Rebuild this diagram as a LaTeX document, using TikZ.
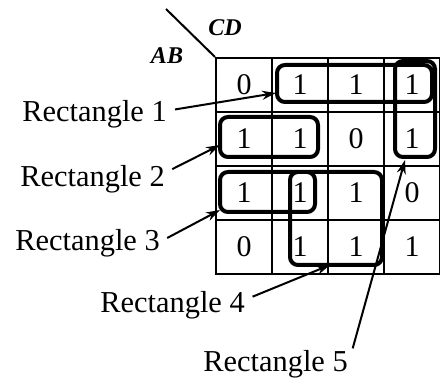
\documentclass[tikz,border=0pt]{standalone}
\usepackage{fontspec}
\setmainfont{Liberation Serif}
\usetikzlibrary{arrows.meta}

\tikzset{
  cell/.style={draw, line width=1pt, minimum width=28pt, minimum height=27pt,
    inner sep=0pt, font=\fontsize{15}{18}\selectfont},
  grp/.style={line width=2pt, rounded corners=4pt},
  lbl/.style={inner sep=0pt, anchor=base west, font=\fontsize{15.2}{18}\selectfont},
  var/.style={font=\fontsize{12}{14}\selectfont\bfseries\itshape},
  ptr/.style={line width=1pt, -{Stealth[length=7pt,width=4.5pt]}, shorten <=4pt},
}

\begin{document}
\begin{tikzpicture}[x=0.5pt,y=-0.5pt]
\useasboundingbox (0,0) rectangle (440,379);

% the map
\foreach \row/\vals in {1/{0,1,1,1}, 2/{1,1,0,1}, 3/{1,1,1,0}, 4/{0,1,1,1}} {
  \foreach \v [count=\col] in \vals {
    \node[cell] (c\row\col) at ({216+56*\col-28}, {58+54*\row-27}) {\v};
  }
}

% corner
\coordinate (dg) at (166,9);
\draw [line width=1pt] (dg) -- (c11.north west);
\node[var] (cd) at (225,28) {CD};
\node[var] (ab) at (167,56) {AB};

% groups
\draw [grp]
(277,65) rectangle (432,102)
(395,61) rectangle (435,157)
(220,117) rectangle (318,157)
(220,172) rectangle (315,212)
(290,172) rectangle (382,265);

\coordinate (t1) at (276,93);
\coordinate (t2) at (220,145);
\coordinate (t3) at (220,210);
\coordinate (t4) at (330,265);
\coordinate (t5) at (405,160);

% labels
\node[lbl] (r1) at (22,122) {Rectangle 1};
\node[lbl] (r2) at (20,187) {Rectangle 2};
\node[lbl] (r3) at (15,251) {Rectangle 3};
\node[lbl] (r4) at (100,313) {Rectangle 4};
\node[lbl] (r5) at (203,372) {Rectangle 5};

\draw [ptr] ([yshift=2pt]r1.east) -- (t1);
\draw [ptr] ([yshift=3.5pt]r2.east) -- (t2);
\draw [ptr] ([yshift=1pt]r3.east) -- (t3);
\draw [ptr] ([yshift=3pt]r4.east) -- (t4);
\draw [ptr, shorten <=8.5pt] (r5.east) -- (t5);
\end{tikzpicture}
\end{document}
